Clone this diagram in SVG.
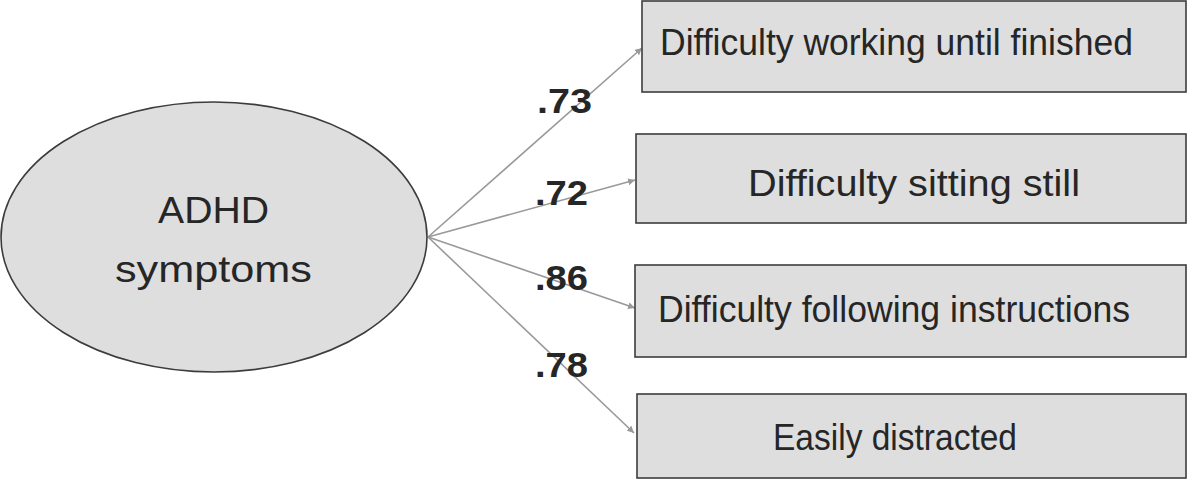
<svg xmlns="http://www.w3.org/2000/svg" width="1188" height="479" viewBox="0 0 1188 479">
<defs>
<style>
.node{fill:#dedede;stroke:#3c3c3c;stroke-width:1.6}
.t{font-family:"Liberation Sans",Arial,sans-serif;font-size:36px;fill:#262626}
.lbl{font-family:"Liberation Sans",Arial,sans-serif;font-size:35px;font-weight:bold;fill:#262626}
.conn{stroke:#999;stroke-width:1.6;fill:none;marker-end:url(#ah)}
</style>
<marker id="ah" viewBox="0 0 10 10" refX="10" refY="5" markerWidth="7" markerHeight="7" markerUnits="userSpaceOnUse" orient="auto"><path d="M0,0 L10,5 L0,10 z" fill="#999"/></marker>
</defs>
<rect width="1188" height="479" fill="#fff"/>
<g id="connectors">
<line class="conn" x1="428" y1="237" x2="642" y2="48"/>
<line class="conn" x1="428" y1="237" x2="635" y2="180"/>
<line class="conn" x1="428" y1="237" x2="635" y2="308"/>
<line class="conn" x1="428" y1="237" x2="634" y2="433"/>
<text class="lbl" x="537" y="113" textLength="55" lengthAdjust="spacingAndGlyphs">.73</text>
<text class="lbl" x="535" y="205" textLength="53" lengthAdjust="spacingAndGlyphs">.72</text>
<text class="lbl" x="535" y="290" textLength="53" lengthAdjust="spacingAndGlyphs">.86</text>
<text class="lbl" x="535" y="377" textLength="53" lengthAdjust="spacingAndGlyphs">.78</text>
</g>
<g id="adhd">
<ellipse class="node" cx="214" cy="237" rx="213" ry="135"/>
<text class="t" x="158" y="223" textLength="111" lengthAdjust="spacingAndGlyphs">ADHD</text>
<text class="t" x="115" y="282" textLength="197" lengthAdjust="spacingAndGlyphs">symptoms</text>
</g>
<g id="box1">
<rect class="node" x="642" y="1" width="544" height="91"/>
<text class="t" x="660" y="55" textLength="473" lengthAdjust="spacingAndGlyphs">Difficulty working until finished</text>
</g>
<g id="box2">
<rect class="node" x="636" y="134" width="550" height="89"/>
<text class="t" x="748" y="196" textLength="332" lengthAdjust="spacingAndGlyphs">Difficulty sitting still</text>
</g>
<g id="box3">
<rect class="node" x="635" y="265" width="551" height="92"/>
<text class="t" x="658" y="322" textLength="472" lengthAdjust="spacingAndGlyphs">Difficulty following instructions</text>
</g>
<g id="box4">
<rect class="node" x="637" y="394" width="549" height="84"/>
<text class="t" x="773" y="450" textLength="244" lengthAdjust="spacingAndGlyphs">Easily distracted</text>
</g>
</svg>
